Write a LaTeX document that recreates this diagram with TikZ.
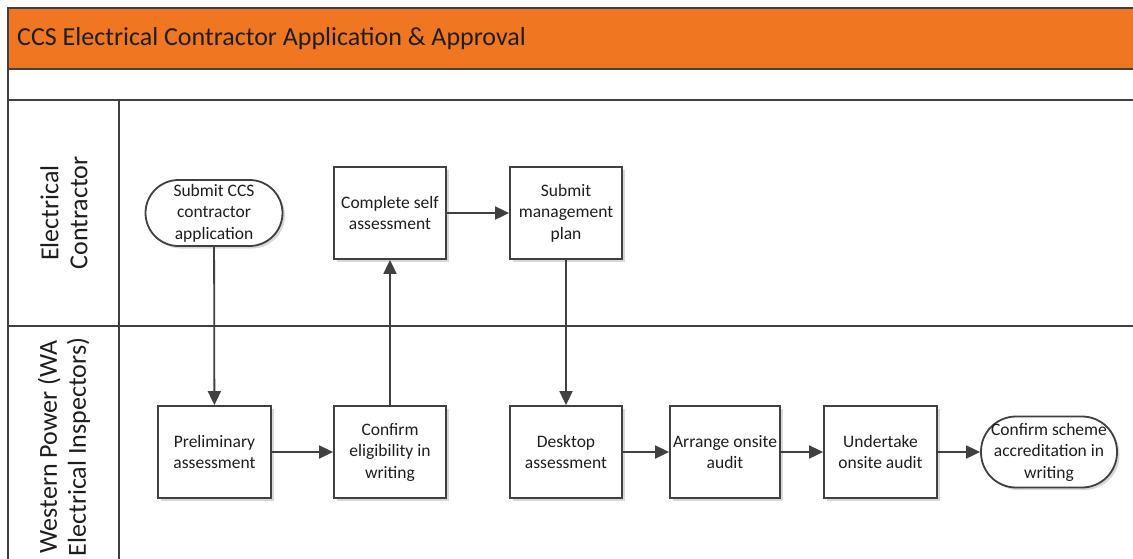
\documentclass[tikz,border=0pt]{standalone}
\usepackage{fontspec}
\setmainfont{Carlito}
\usetikzlibrary{arrows.meta,shadows}
\definecolor{hdr}{RGB}{240,118,34}
\definecolor{ln}{RGB}{64,64,64}
\definecolor{txt}{RGB}{30,30,30}
\tikzset{
  frame/.style={draw=ln,line width=2pt},
  proc/.style={draw=ln,line width=1.8pt,fill=white,minimum width=112pt,minimum height=92pt,
    align=center,inner sep=1pt,text=txt,font=\fontsize{17.5}{21.5}\selectfont,
    drop shadow={shadow xshift=2.5pt,shadow yshift=-2.5pt,fill=black!25,opacity=0.6}},
  term/.style={proc,rounded corners=33pt,minimum width=137pt,minimum height=66pt},
  flow/.style={draw=ln,line width=1.8pt,-{Triangle[length=14pt,width=13pt]}},
  lane/.style={rotate=90,align=center,text=txt,font=\fontsize{26}{29}\selectfont}
}
\begin{document}
\begin{tikzpicture}[x=1pt,y=-1pt]
\useasboundingbox (0,0) rectangle (1133,558);
\begin{scope}
\clip (0,0) rectangle (1133,558);
\fill[white] (0,0) rectangle (1133,558);
\fill[hdr] (8,8) rectangle (1140,69);
\draw[frame] (8,8) -- (1140,8);
\draw[frame] (8,69) -- (1140,69);
\draw[frame] (8,100) -- (1140,100);
\draw[frame] (8,326) -- (1140,326);
\draw[frame] (8,7) -- (8,570);
\draw[frame] (119,100) -- (119,570);
\node[anchor=west,text=txt,font=\fontsize{26}{30}\selectfont,inner sep=0pt] (title) at (17,38.5) {CCS Electrical Contractor Application \& Approval};
\node[lane] (l1) at (64,213) {Electrical\\Contractor};
\node[lane] (l2) at (64,447) {Western Power (WA\\Electrical Inspectors)};
\end{scope}

\node[term] (a) at (214,213) {Submit CCS\\contractor\\application};
\node[proc] (b) at (390,213) {Complete self\\assessment};
\node[proc] (c) at (566,213) {Submit\\management\\plan};
\node[proc,minimum width=113pt] (d) at (214.5,452) {Preliminary\\assessment};
\node[proc] (e) at (390,452) {Confirm\\eligibility in\\writing};
\node[proc] (f) at (566,452) {Desktop\\assessment};
\node[proc,minimum width=110pt] (g) at (725,452) {Arrange onsite\\audit};
\node[proc,minimum width=113pt] (h) at (880.5,452) {Undertake\\onsite audit};
\node[term,rounded corners=35pt,minimum width=136pt,minimum height=71pt] (i) at (1049,452) {Confirm scheme\\accreditation in\\writing};

\draw[flow] (a) -- (d);
\draw[flow] (d) -- (e);
\draw[flow] (e) -- (b);
\draw[flow] (b) -- (c);
\draw[flow] (c) -- (f);
\draw[flow] (f) -- (g);
\draw[flow] (g) -- (h);
\draw[flow] (h) -- (i);
\end{tikzpicture}
\end{document}
